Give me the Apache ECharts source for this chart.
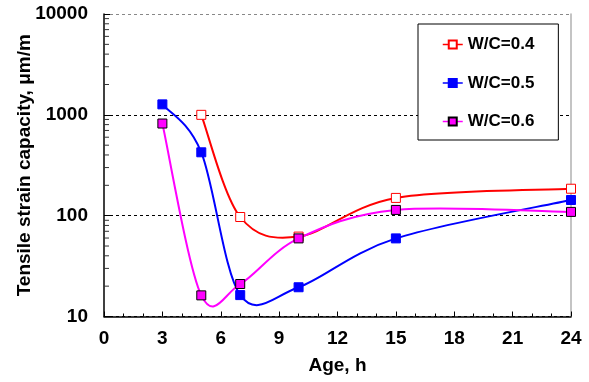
<!DOCTYPE html>
<html>
<head>
<meta charset="utf-8">
<script src="https://cdn.jsdelivr.net/npm/echarts@6/dist/echarts.min.js"></script>
<style>
html,body{margin:0;padding:0;background:#fff;}
#chart{width:589px;height:382px;}
</style>
</head>
<body>
<div id="chart"></div>
<script>
// ---- data ----
var ages = [3, 5, 7, 10, 15, 24];
var wc04 = [null, 1000, 97, 62, 150, 185];
var wc05 = [1270, 425, 16.3, 19.5, 59.5, 143];
var wc06 = [820, 16.2, 21, 59.5, 114, 109];
var seriesNames = ['W/C=0.4', 'W/C=0.5', 'W/C=0.6'];
var xTicks = [0, 3, 6, 9, 12, 15, 18, 21, 24];
var yTicks = [10, 100, 1000, 10000];
var minorMultipliers = [2, 3, 4, 5, 6, 7, 8, 9];

var FONT = 'Liberation Sans, Arial, sans-serif';

function pairs(vals) {
  var out = [];
  for (var i = 0; i < ages.length; i++) {
    if (vals[i] != null) out.push([ages[i], vals[i]]);
  }
  return out;
}

var minorTickVals = [];
for (var d = 0; d < yTicks.length - 1; d++) {
  for (var m = 0; m < minorMultipliers.length; m++) {
    minorTickVals.push([0, yTicks[d] * minorMultipliers[m]]);
  }
}

// Excel-like smoothed curve (uniform Catmull-Rom in pixel space)
function curveSeries(name, vals, color) {
  var data = pairs(vals);
  return {
    type: 'custom',
    name: name,
    z: 2,
    silent: true,
    data: data,
    renderItem: function (params, api) {
      if (params.dataIndex !== 0) return null;
      var pts = data.map(function (p) { return api.coord(p); });
      var n = pts.length;
      var path = 'M' + pts[0][0] + ' ' + pts[0][1];
      for (var i = 0; i < n - 1; i++) {
        var p0 = pts[Math.max(i - 1, 0)], p1 = pts[i], p2 = pts[i + 1], p3 = pts[Math.min(i + 2, n - 1)];
        var c1x = p1[0] + (p2[0] - p0[0]) / 6, c1y = p1[1] + (p2[1] - p0[1]) / 6;
        var c2x = p2[0] - (p3[0] - p1[0]) / 6, c2y = p2[1] - (p3[1] - p1[1]) / 6;
        path += ' C' + c1x + ' ' + c1y + ' ' + c2x + ' ' + c2y + ' ' + p2[0] + ' ' + p2[1];
      }
      return {
        type: 'path',
        shape: { pathData: path },
        style: { fill: null, stroke: color, lineWidth: 2 }
      };
    }
  };
}

function markerSeries(name, vals, color, fill, border) {
  return {
    type: 'line',
    name: name,
    z: 4,
    data: pairs(vals),
    symbol: 'rect',
    symbolSize: 9,
    showSymbol: true,
    lineStyle: { width: 0, color: color },
    itemStyle: { color: fill, borderColor: border, borderWidth: 1, opacity: 1 },
    emphasis: { disabled: true },
    animation: false
  };
}

var chart = echarts.init(document.getElementById('chart'), null, { renderer: 'canvas' });

var option = {
  animation: false,
  backgroundColor: '#fff',
  grid: { left: 104, right: 18, top: 14, bottom: 65.5, containLabel: false },
  xAxis: {
    type: 'value',
    min: 0, max: 24, interval: 3,
    name: 'Age, h',
    nameLocation: 'middle',
    nameGap: 40,
    nameMoveOverlap: false,
    nameTextStyle: { fontFamily: FONT, fontWeight: 'bold', fontSize: 19, color: '#000' },
    axisLine: { show: true, lineStyle: { color: '#000', width: 1.5 } },
    axisTick: { show: true, inside: true, length: 5, lineStyle: { color: '#000' } },
    minorTick: { show: true, splitNumber: 3, length: 3, lineStyle: { color: '#000' } },
    axisLabel: { fontFamily: FONT, fontWeight: 'bold', fontSize: 19, color: '#000', margin: 13,
      formatter: function (v) { return xTicks.indexOf(v) >= 0 ? String(v) : ''; } },
    splitLine: { show: false }
  },
  yAxis: [{
    type: 'log',
    logBase: 10,
    min: 10, max: 10000,
    name: 'Tensile strain capacity, μm/m',
    nameLocation: 'middle',
    nameGap: 70,
    nameMoveOverlap: false,
    nameTextStyle: { fontFamily: FONT, fontWeight: 'bold', fontSize: 19, color: '#000' },
    axisLine: { show: true, lineStyle: { color: '#000', width: 1.5 } },
    axisTick: { show: true, inside: true, length: 6, lineStyle: { color: '#000' } },
    axisLabel: { fontFamily: FONT, fontWeight: 'bold', fontSize: 19, color: '#000', margin: 16,
      formatter: function (v) { return String(Math.round(v)); } },
    splitLine: { show: true, lineStyle: { color: ['#000', '#000', '#000', '#888'], type: [3, 3], width: 1 } }
  }, {
    type: 'log',
    logBase: 10,
    min: 10, max: 10000,
    position: 'right',
    axisLine: { show: true, lineStyle: { color: '#b0b0b0', width: 1.5 } },
    axisTick: { show: false },
    axisLabel: { show: false },
    splitLine: { show: false }
  }],
  legend: {
    orient: 'vertical',
    left: 418,
    top: 24,
    padding: [12, 24, 10, 24],
    itemWidth: 20,
    itemHeight: 10,
    itemGap: 21.5,
    borderColor: '#000',
    borderWidth: 1,
    backgroundColor: '#fff',
    selectedMode: false,
    textStyle: { fontFamily: FONT, fontWeight: 'bold', fontSize: 17, color: '#000', lineHeight: 17 },
    data: [
      { name: seriesNames[0], lineStyle: { color: '#ff0000', width: 1.5 } },
      { name: seriesNames[1], lineStyle: { color: '#0000ff', width: 1.5 } },
      { name: seriesNames[2], lineStyle: { color: '#ff00ff', width: 1.5 } }
    ]
  },
  series: [
    markerSeries(seriesNames[0], wc04, '#ff0000', '#ffffff', '#ff0000'),
    markerSeries(seriesNames[1], wc05, '#0000ff', '#0000ff', '#0000ff'),
    markerSeries(seriesNames[2], wc06, '#ff00ff', '#ff00ff', '#000000'),
    curveSeries(seriesNames[0], wc04, '#ff0000'),
    curveSeries(seriesNames[1], wc05, '#0000ff'),
    curveSeries(seriesNames[2], wc06, '#ff00ff'),
    {
      type: 'scatter',
      name: 'minorTicks',
      silent: true,
      z: 3,
      clip: false,
      symbol: 'rect',
      symbolSize: [5, 1],
      symbolOffset: [2.5, 0],
      itemStyle: { color: '#333', opacity: 1 },
      emphasis: { disabled: true },
      data: minorTickVals
    }
  ]
};
chart.setOption(option);
</script>
</body>
</html>
